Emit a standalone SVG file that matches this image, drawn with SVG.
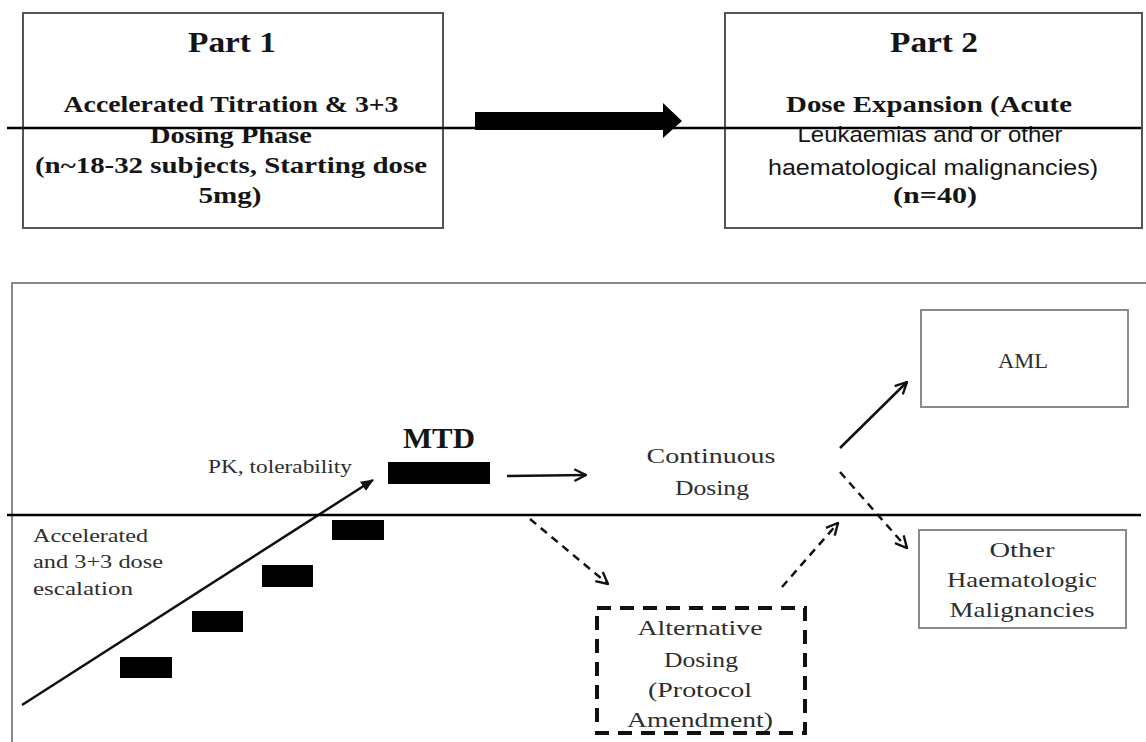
<svg xmlns="http://www.w3.org/2000/svg" width="1146" height="742" viewBox="0 0 1146 742">
<style>
.box{fill:#fff;stroke:#555;stroke-width:2}
.gbox{fill:none;stroke:#8a8a8a;stroke-width:2}
.sb{font-family:"Liberation Serif",serif;font-weight:bold;fill:#151515;text-anchor:middle}
.ss{font-family:"Liberation Sans",sans-serif;fill:#151515;text-anchor:middle}
.sr{font-family:"Liberation Serif",serif;fill:#2e2e2e}
.mid{text-anchor:middle}
.bar{fill:#000}
.rule{stroke:#000;stroke-width:2.5}
.con{stroke:#111;stroke-width:2.5;fill:none}
.dash{stroke-dasharray:8 6}
</style>
<defs>
<marker id="open" viewBox="0 0 12 12" refX="11" refY="6" markerWidth="14" markerHeight="14" markerUnits="userSpaceOnUse" orient="auto">
<path d="M1,1 L11,6 L1,11" fill="none" stroke="#111" stroke-width="2"/>
</marker>
<marker id="solid" viewBox="0 0 12 12" refX="11" refY="6" markerWidth="13" markerHeight="13" markerUnits="userSpaceOnUse" orient="auto">
<path d="M0,1 L12,6 L0,11 Z" fill="#111"/>
</marker>
</defs>

<g id="part1">
<rect class="box" x="23" y="13" width="420" height="215"/>
<text class="sb" x="232" y="52" font-size="30" textLength="88" lengthAdjust="spacingAndGlyphs">Part 1</text>
<text class="sb" x="231" y="112" font-size="23" textLength="335" lengthAdjust="spacingAndGlyphs">Accelerated Titration &amp; 3+3</text>
<text class="sb" x="231" y="143" font-size="23" textLength="162" lengthAdjust="spacingAndGlyphs">Dosing Phase</text>
<text class="sb" x="231" y="173" font-size="23" textLength="392" lengthAdjust="spacingAndGlyphs">(n~18-32 subjects, Starting dose</text>
<text class="sb" x="230" y="203" font-size="23" textLength="63" lengthAdjust="spacingAndGlyphs">5mg)</text>
</g>

<g id="part2">
<rect class="box" x="725" y="13" width="417" height="215"/>
<text class="sb" x="934" y="52" font-size="30" textLength="88" lengthAdjust="spacingAndGlyphs">Part 2</text>
<text class="sb" x="929" y="112" font-size="23" textLength="286" lengthAdjust="spacingAndGlyphs">Dose Expansion (Acute</text>
<text class="ss" x="930" y="142" font-size="22" textLength="265" lengthAdjust="spacingAndGlyphs">Leukaemias and or other</text>
<text class="ss" x="933" y="175" font-size="22" textLength="330" lengthAdjust="spacingAndGlyphs">haematological malignancies)</text>
<text class="sb" x="935" y="203" font-size="23" textLength="84" lengthAdjust="spacingAndGlyphs">(n=40)</text>
</g>

<g id="frame">
<path class="gbox" d="M12,742 L12,283 L1146,283"/>
</g>

<g id="mtd">
<text class="sb" x="439" y="448" font-size="30" textLength="72" lengthAdjust="spacingAndGlyphs">MTD</text>
<rect class="bar" x="388" y="462" width="102" height="22"/>
</g>

<g id="steps">
<rect class="bar" x="120" y="657" width="52" height="21"/>
<rect class="bar" x="192" y="611" width="51" height="21"/>
<rect class="bar" x="262" y="565" width="51" height="22"/>
<rect class="bar" x="332" y="520" width="52" height="20"/>
</g>

<g id="labels">
<text class="sr" x="208" y="473" font-size="18" textLength="144" lengthAdjust="spacingAndGlyphs">PK, tolerability</text>
<text class="sr" x="33" y="542" font-size="19" textLength="115" lengthAdjust="spacingAndGlyphs">Accelerated</text>
<text class="sr" x="33" y="568" font-size="19" textLength="130" lengthAdjust="spacingAndGlyphs">and 3+3 dose</text>
<text class="sr" x="33" y="595" font-size="19" textLength="100" lengthAdjust="spacingAndGlyphs">escalation</text>
</g>

<g id="continuous">
<text class="sr mid" x="711" y="463" font-size="21" textLength="129" lengthAdjust="spacingAndGlyphs">Continuous</text>
<text class="sr mid" x="712" y="495" font-size="21" textLength="74" lengthAdjust="spacingAndGlyphs">Dosing</text>
</g>

<g id="alternative">
<rect x="597" y="608" width="208" height="125" fill="none" stroke="#111" stroke-width="4" stroke-dasharray="14 9"/>
<text class="sr mid" x="700" y="635" font-size="21" textLength="125" lengthAdjust="spacingAndGlyphs">Alternative</text>
<text class="sr mid" x="701" y="667" font-size="21" textLength="74" lengthAdjust="spacingAndGlyphs">Dosing</text>
<text class="sr mid" x="700" y="697" font-size="21" textLength="104" lengthAdjust="spacingAndGlyphs">(Protocol</text>
<text class="sr mid" x="700" y="727" font-size="21" textLength="146" lengthAdjust="spacingAndGlyphs">Amendment)</text>
</g>

<g id="aml">
<rect class="gbox" x="921" y="310" width="207" height="97"/>
<text class="sr mid" x="1023" y="368" font-size="20" textLength="50" lengthAdjust="spacingAndGlyphs">AML</text>
</g>

<g id="other">
<rect class="gbox" x="919" y="530" width="207" height="98"/>
<text class="sr mid" x="1022" y="557" font-size="21" textLength="65" lengthAdjust="spacingAndGlyphs">Other</text>
<text class="sr mid" x="1022" y="587" font-size="21" textLength="150" lengthAdjust="spacingAndGlyphs">Haematologic</text>
<text class="sr mid" x="1022" y="617" font-size="21" textLength="145" lengthAdjust="spacingAndGlyphs">Malignancies</text>
</g>

<g id="connectors">
<polygon points="475,112 663,112 663,103 682,121 663,138 663,130 475,130" fill="#000"/>
<line class="con" x1="22" y1="705" x2="373" y2="480" marker-end="url(#solid)"/>
<line class="con" x1="507" y1="476" x2="586" y2="475" marker-end="url(#open)"/>
<line class="con dash" x1="530" y1="519" x2="608" y2="584" marker-end="url(#open)"/>
<line class="con dash" x1="782" y1="587" x2="838" y2="523" marker-end="url(#open)"/>
<line class="con" x1="840" y1="448" x2="907" y2="382" marker-end="url(#open)"/>
<line class="con dash" x1="840" y1="472" x2="907" y2="548" stroke-dasharray="12 8" marker-end="url(#open)"/>
</g>

<g id="rules">
<line class="rule" x1="7" y1="128" x2="1141" y2="128"/>
<line class="rule" x1="7" y1="515" x2="1141" y2="515"/>
</g>
</svg>
